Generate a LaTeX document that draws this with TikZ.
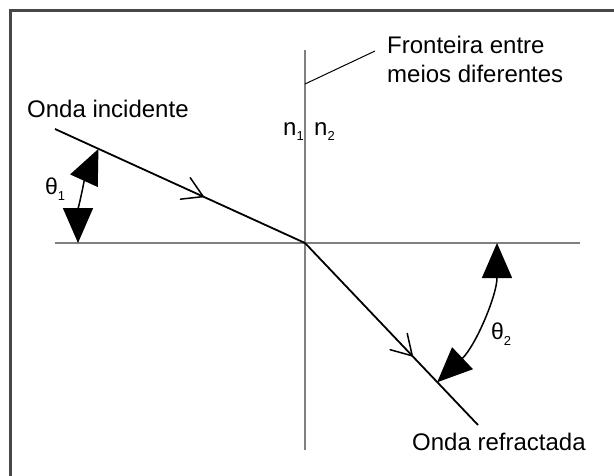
\documentclass[tikz,border=0pt]{standalone}
\usepackage{fontspec}
\setmainfont{Liberation Sans}
\usetikzlibrary{arrows.meta,decorations.markings}
\begin{document}
\begin{tikzpicture}[x=1pt,y=-1pt,
  lbl/.style={inner sep=0pt, font=\fontsize{24}{29}\selectfont},
  sym/.style={inner sep=0pt, font=\fontsize{23}{23}\selectfont},
  axisline/.style={draw=black!50, line width=2pt},
  ray/.style={draw=black, line width=1.8pt},
  chev/.style={postaction={decorate}, decoration={markings, mark=at position #1 with {\draw[line width=1.5pt, line cap=round] (-19.7,11.8) -- (0,0) -- (-19.7,-11.8);}}},
  angarc/.style={draw=black, line width=1.5pt, {Triangle[length=35pt,width=30pt]}-{Triangle[length=35pt,width=30pt]}},
  frame/.style={draw=black!72, line width=3pt},
]
\useasboundingbox (0,0) rectangle (614,475);
\clip (0,0) rectangle (614,475);
\draw[frame] (10,10) rectangle (640,500);

\coordinate (O) at (305,243);
\coordinate (vtop) at (305,50);
\coordinate (vbot) at (305,450);
\coordinate (hl) at (55,243);
\coordinate (hr) at (580,243);
\coordinate (inc) at (55,129);
\coordinate (refr) at (478,425);
\coordinate (lead) at (305,84);
\coordinate (leadend) at (375,51);
\coordinate (a1) at (78,243);
\coordinate (a2) at (497,243);

\draw[axisline] (vtop) -- (vbot);
\draw[axisline] (hl) -- (hr);
\draw[ray, chev=0.593] (inc) -- (O);
\draw[ray, chev=0.62] (O) -- (refr);
\draw[line width=1pt] (lead) -- (leadend);

\draw[angarc] (a1) arc[start angle=180, end angle=204.5, radius=227];
\draw[angarc] (a2) arc[start angle=0, end angle=46.5, radius=192];

\node[lbl, anchor=base west] (inctext) at (27,117) {Onda incidente};
\node[lbl, anchor=base west] (front1) at (387,53) {Fronteira entre};
\node[lbl, anchor=base west] (front2) at (387,82) {meios diferentes};
\node[lbl, anchor=base west] (reftext) at (412,450) {Onda refractada};
\node[lbl, anchor=base west] (n1) at (283,135) {n\raisebox{-5pt}{\fontsize{13}{13}\selectfont 1}};
\node[lbl, anchor=base west] (n2) at (314,135) {n\raisebox{-5pt}{\fontsize{13}{13}\selectfont 2}};
\node[sym, anchor=base west] (th1) at (45,194) {θ\raisebox{-6pt}{\fontsize{13}{13}\selectfont 1}};
\node[sym, anchor=base west] (th2) at (491,339) {θ\raisebox{-6pt}{\fontsize{13}{13}\selectfont 2}};
\end{tikzpicture}
\end{document}
